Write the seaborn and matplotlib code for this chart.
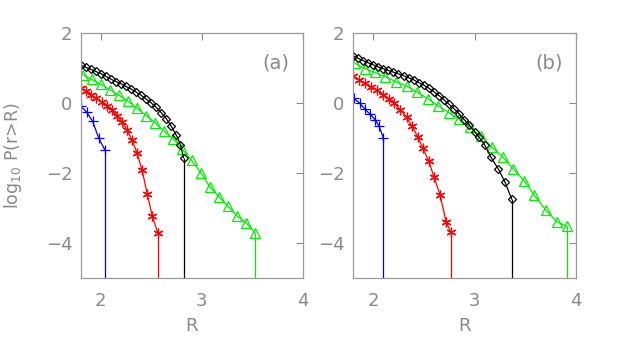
import matplotlib
matplotlib.use("Agg")
import matplotlib.pyplot as plt
import seaborn as sns

# ---- panel (a) ----
a_blue_R = [1.80, 1.86, 1.92, 1.98, 2.04]
a_blue_logP = [-0.08, -0.25, -0.52, -1.00, -1.33]

a_red_R = [1.80, 1.85, 1.90, 1.95, 2.01, 2.06, 2.11, 2.16, 2.21, 2.26, 2.31, 2.36,
           2.41, 2.46, 2.51, 2.565]
a_red_logP = [0.45, 0.35, 0.25, 0.15, 0.03, -0.08, -0.20, -0.35, -0.53, -0.77, -1.05,
              -1.43, -1.92, -2.58, -3.22, -3.70]

a_black_R = [1.80, 1.85, 1.90, 1.95, 2.00, 2.05, 2.10, 2.15, 2.20, 2.25, 2.30, 2.35,
             2.40, 2.45, 2.50, 2.55, 2.60, 2.65, 2.70, 2.75, 2.79, 2.82]
a_black_logP = [1.09, 1.03, 0.97, 0.91, 0.85, 0.77, 0.69, 0.62, 0.56, 0.48, 0.41, 0.32,
                0.23, 0.12, 0.01, -0.12, -0.27, -0.44, -0.66, -0.92, -1.18, -1.56]

a_green_R = [1.82, 1.91, 2.00, 2.09, 2.18, 2.27, 2.36, 2.45, 2.54, 2.63, 2.72, 2.81,
             2.90, 2.99, 3.08, 3.17, 3.26, 3.35, 3.44, 3.53]
a_green_logP = [0.82, 0.68, 0.54, 0.39, 0.23, 0.06, -0.14, -0.35, -0.56, -0.80, -1.02,
                -1.32, -1.63, -1.98, -2.38, -2.67, -2.94, -3.22, -3.41, -3.71]

# ---- panel (b) ----
b_blue_R = [1.81, 1.87, 1.92, 1.97, 2.02, 2.06, 2.10]
b_blue_logP = [0.14, 0.00, -0.17, -0.31, -0.47, -0.66, -0.98]

b_red_R = [1.80, 1.86, 1.92, 1.98, 2.04, 2.10, 2.16, 2.21, 2.27, 2.33, 2.38, 2.44,
           2.49, 2.55, 2.60, 2.66, 2.72, 2.766]
b_red_logP = [0.78, 0.67, 0.57, 0.47, 0.37, 0.25, 0.13, 0.00, -0.19, -0.40, -0.64,
              -0.95, -1.28, -1.66, -2.10, -2.61, -3.39, -3.68]

b_black_R = [1.80, 1.85, 1.90, 1.95, 2.00, 2.05, 2.10, 2.15, 2.20, 2.25, 2.30, 2.35,
             2.40, 2.45, 2.50, 2.55, 2.60, 2.65, 2.70, 2.75, 2.80, 2.85, 2.90, 2.95,
             3.00, 3.04, 3.10, 3.16, 3.235, 3.30, 3.367]
b_black_logP = [1.36, 1.29, 1.22, 1.16, 1.10, 1.04, 0.99, 0.94, 0.89, 0.84, 0.79, 0.73,
                0.67, 0.59, 0.52, 0.43, 0.33, 0.22, 0.10, -0.03, -0.16, -0.31, -0.47,
                -0.63, -0.81, -0.95, -1.19, -1.53, -1.88, -2.25, -2.74]

b_green_R = [1.82, 1.92, 2.02, 2.12, 2.23, 2.33, 2.43, 2.54, 2.64, 2.75, 2.85, 2.96,
             3.06, 3.17, 3.28, 3.38, 3.49, 3.59, 3.70, 3.81, 3.913]
b_green_logP = [1.15, 0.99, 0.88, 0.76, 0.61, 0.49, 0.33, 0.13, -0.07, -0.27, -0.46,
                -0.69, -0.94, -1.25, -1.54, -1.87, -2.22, -2.63, -3.04, -3.38, -3.52]

panel_labels = ["(a)", "(b)"]
xticks = [2, 3, 4]
yticks = [2, 0, -2, -4]

sns.set_style("white")
plt.rcParams['font.family'] = ['DejaVu Sans']
grey = '#8a8a8a'

styles = {
    'blue': dict(color='#0000ff', marker='+', markersize=7),
    'red': dict(color='#ff0000', marker=(6, 2, 0), markersize=7),
    'black': dict(color='#000000', marker='D', markersize=4.5),
    'green': dict(color='#00ee00', marker='^', markersize=7),
}

panels = [
    [(a_blue_R, a_blue_logP, 'blue'), (a_red_R, a_red_logP, 'red'),
     (a_green_R, a_green_logP, 'green'), (a_black_R, a_black_logP, 'black')],
    [(b_blue_R, b_blue_logP, 'blue'), (b_red_R, b_red_logP, 'red'),
     (b_green_R, b_green_logP, 'green'), (b_black_R, b_black_logP, 'black')],
]

fig = plt.figure(figsize=(6.2, 3.49), dpi=100)
axes = [fig.add_axes([0.130, 0.2026, 0.358, 0.702]),
        fig.add_axes([0.569, 0.2026, 0.360, 0.702])]

ymin, ymax = -5, 2
for ax, series, lab in zip(axes, panels, panel_labels):
    for R, logP, name in series:
        st = styles[name]
        sns.lineplot(x=R, y=logP, ax=ax, sort=False, estimator=None,
                     color=st['color'], linewidth=0.9, marker=st['marker'],
                     markersize=st['markersize'], markerfacecolor='none',
                     markeredgecolor=st['color'], markeredgewidth=0.9)
        # P -> 0 beyond the last bin: drop to the bottom of the axes
        ax.vlines(R[-1], ymin, logP[-1], color=st['color'], linewidth=0.9)
    ax.set_xlim(1.8, 4.0)
    ax.set_ylim(ymin, ymax)
    ax.set_xticks(xticks)
    ax.set_yticks(yticks)
    ax.tick_params(direction='in', top=True, right=True, length=5, width=0.8,
                   colors=grey, labelsize=13)
    ax.tick_params(axis='x', pad=10)
    ax.tick_params(axis='y', pad=6)
    for sp in ax.spines.values():
        sp.set_color('#9a9a9a')
        sp.set_linewidth(0.9)
    ax.set_xlabel('R', color=grey, fontsize=13)
    ax.xaxis.set_label_coords(0.5, -0.16)
    ax.set_ylabel('')
    ax.text(3.74, 1.14, lab, color=grey, fontsize=14, ha='center', va='center')

axes[0].set_ylabel(r'log$_{10}$ P(r>R)', color=grey, fontsize=12.5)
axes[0].yaxis.set_label_coords(-0.255, 0.5)

fig.savefig('out.png', dpi=100)
